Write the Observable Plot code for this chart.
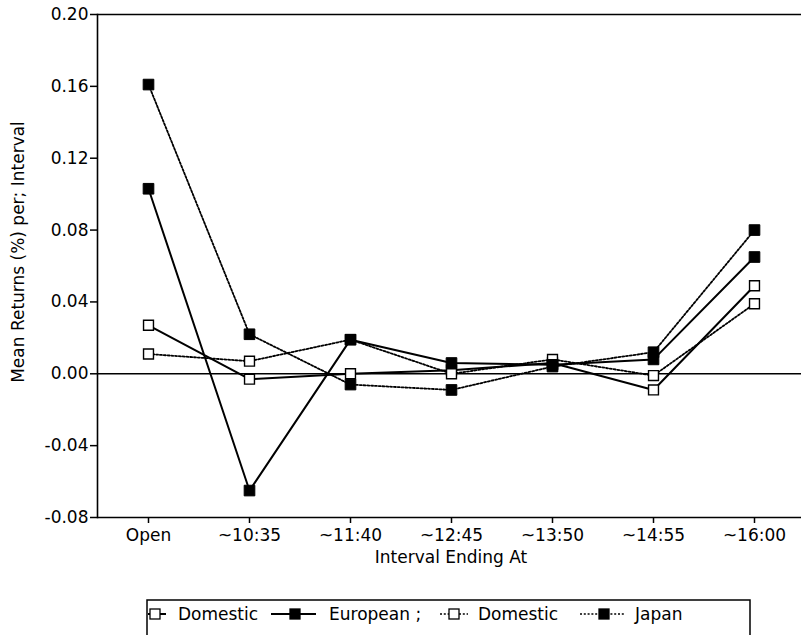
<!DOCTYPE html>
<html>
<head>
<meta charset="utf-8">
<script src="https://cdn.jsdelivr.net/npm/d3@7"></script>
<script src="https://cdn.jsdelivr.net/npm/@observablehq/plot@0.6"></script>
<style>
  html, body { margin: 0; padding: 0; background: white; overflow: hidden; }
  #wrap { position: relative; width: 801px; height: 635px; overflow: hidden; }
  svg { display: block; }
</style>
</head>
<body>
<div id="wrap"></div>
<script>
// ---- data ----
const categories = ["Open", "~10:35", "~11:40", "~12:45", "~13:50", "~14:55", "~16:00"];
const domesticEuropean = [0.027, -0.003, 0.000, 0.002, 0.006, -0.009, 0.049];
const european = [0.103, -0.065, 0.019, 0.006, 0.005, 0.008, 0.065];
const domesticJapan = [0.011, 0.007, 0.019, 0.000, 0.008, -0.001, 0.039];
const japan = [0.161, 0.022, -0.006, -0.009, 0.004, 0.012, 0.080];
const yTicks = [-0.08, -0.04, 0.00, 0.04, 0.08, 0.12, 0.16, 0.20];
const yDomain = [-0.08, 0.20];
const legendLabels = ["Domestic", "European ;", "Domestic", "Japan"];
const xTitle = "Interval Ending At";
const yTitle = "Mean Returns (%) per; Interval";

// ---- series styling ----
const series = [
  {name: "Domestic (Eur)", values: domesticEuropean, dashed: false, filled: false},
  {name: "European", values: european, dashed: false, filled: true},
  {name: "Domestic (Jpn)", values: domesticJapan, dashed: true, filled: false},
  {name: "Japan", values: japan, dashed: true, filled: true}
];
const rows = s => categories.map((c, i) => ({cat: c, v: s.values[i], series: s.name}));

const FONT = "DejaVu Sans";
const DASH = "2,1.8";
const marks = [
  Plot.ruleY([0], {stroke: "black", strokeWidth: 1.5}),
  Plot.ruleY(yDomain, {stroke: "black", strokeWidth: 1.6}),
  Plot.frame({anchor: "left", stroke: "black", strokeWidth: 1.6}),
  Plot.axisY({ticks: yTicks, tickFormat: d => d.toFixed(2), tickSize: 7, tickPadding: 2,
    label: null, fontSize: 17, strokeWidth: 1.5}),
  Plot.axisX({tickSize: 6, tickPadding: 5, label: null, fontSize: 17, strokeWidth: 1.5}),
  Plot.text([yTitle], {text: d => d, frameAnchor: "left", textAnchor: "middle", dx: -79, dy: -14,
    rotate: -90, fontSize: 17, fill: "black"}),
  Plot.text([xTitle], {text: d => d, frameAnchor: "bottom", dy: 45, fontSize: 17, fill: "black"})
];
for (const s of series) {
  marks.push(Plot.line(rows(s), {x: "cat", y: "v", stroke: "black",
    strokeWidth: s.dashed ? 1.8 : 2, strokeDasharray: s.dashed ? DASH : null}));
}
for (const s of series.filter(d => !d.filled)) {
  marks.push(Plot.dot(rows(s), {x: "cat", y: "v", symbol: "square", r: 5.6,
    fill: "white", stroke: "black", strokeWidth: 1.4}));
}
for (const s of series.filter(d => d.filled)) {
  marks.push(Plot.dot(rows(s), {x: "cat", y: "v", symbol: "square", r: 6,
    fill: "black", stroke: "black", strokeWidth: 1}));
}

const chart = Plot.plot({
  width: 801, height: 580,
  marginLeft: 97, marginRight: -3, marginTop: 14, marginBottom: 63,
  style: {fontFamily: FONT, fontSize: "17px", color: "black", background: "white", overflow: "visible"},
  x: {type: "point", domain: categories, padding: 0.5},
  y: {domain: yDomain},
  marks
});
document.getElementById("wrap").appendChild(chart);

// ---- legend (below the plot SVG) ----
const legend = d3.select("#wrap").append("svg")
  .attr("width", 801).attr("height", 55)
  .style("font-family", FONT).style("font-size", "17px");
legend.append("path")
  .attr("d", "M147,70 L147,20 L750,20 L750,70")
  .attr("fill", "none").attr("stroke", "black").attr("stroke-width", 1.5);
const legendLayout = [
  {x0: 148, x1: 166, sq: 155, tx: 178},
  {x0: 271, x1: 316, sq: 295, tx: 329},
  {x0: 440, x1: 468, sq: 454, tx: 478},
  {x0: 580, x1: 624, sq: 604, tx: 635}
];
legendLabels.forEach((lab, i) => {
  const s = series[i], L = legendLayout[i];
  const g = legend.append("g");
  g.append("line").attr("x1", L.x0).attr("x2", L.x1).attr("y1", 34).attr("y2", 34)
    .attr("stroke", "black").attr("stroke-width", s.dashed ? 1.6 : 2)
    .attr("stroke-dasharray", s.dashed ? DASH : null);
  g.append("rect").attr("x", L.sq - 5).attr("y", 29).attr("width", 10).attr("height", 10)
    .attr("fill", s.filled ? "black" : "white").attr("stroke", "black").attr("stroke-width", 1.3);
  g.append("text").attr("x", L.tx).attr("y", 40).text(lab);
});
</script>
</body>
</html>
